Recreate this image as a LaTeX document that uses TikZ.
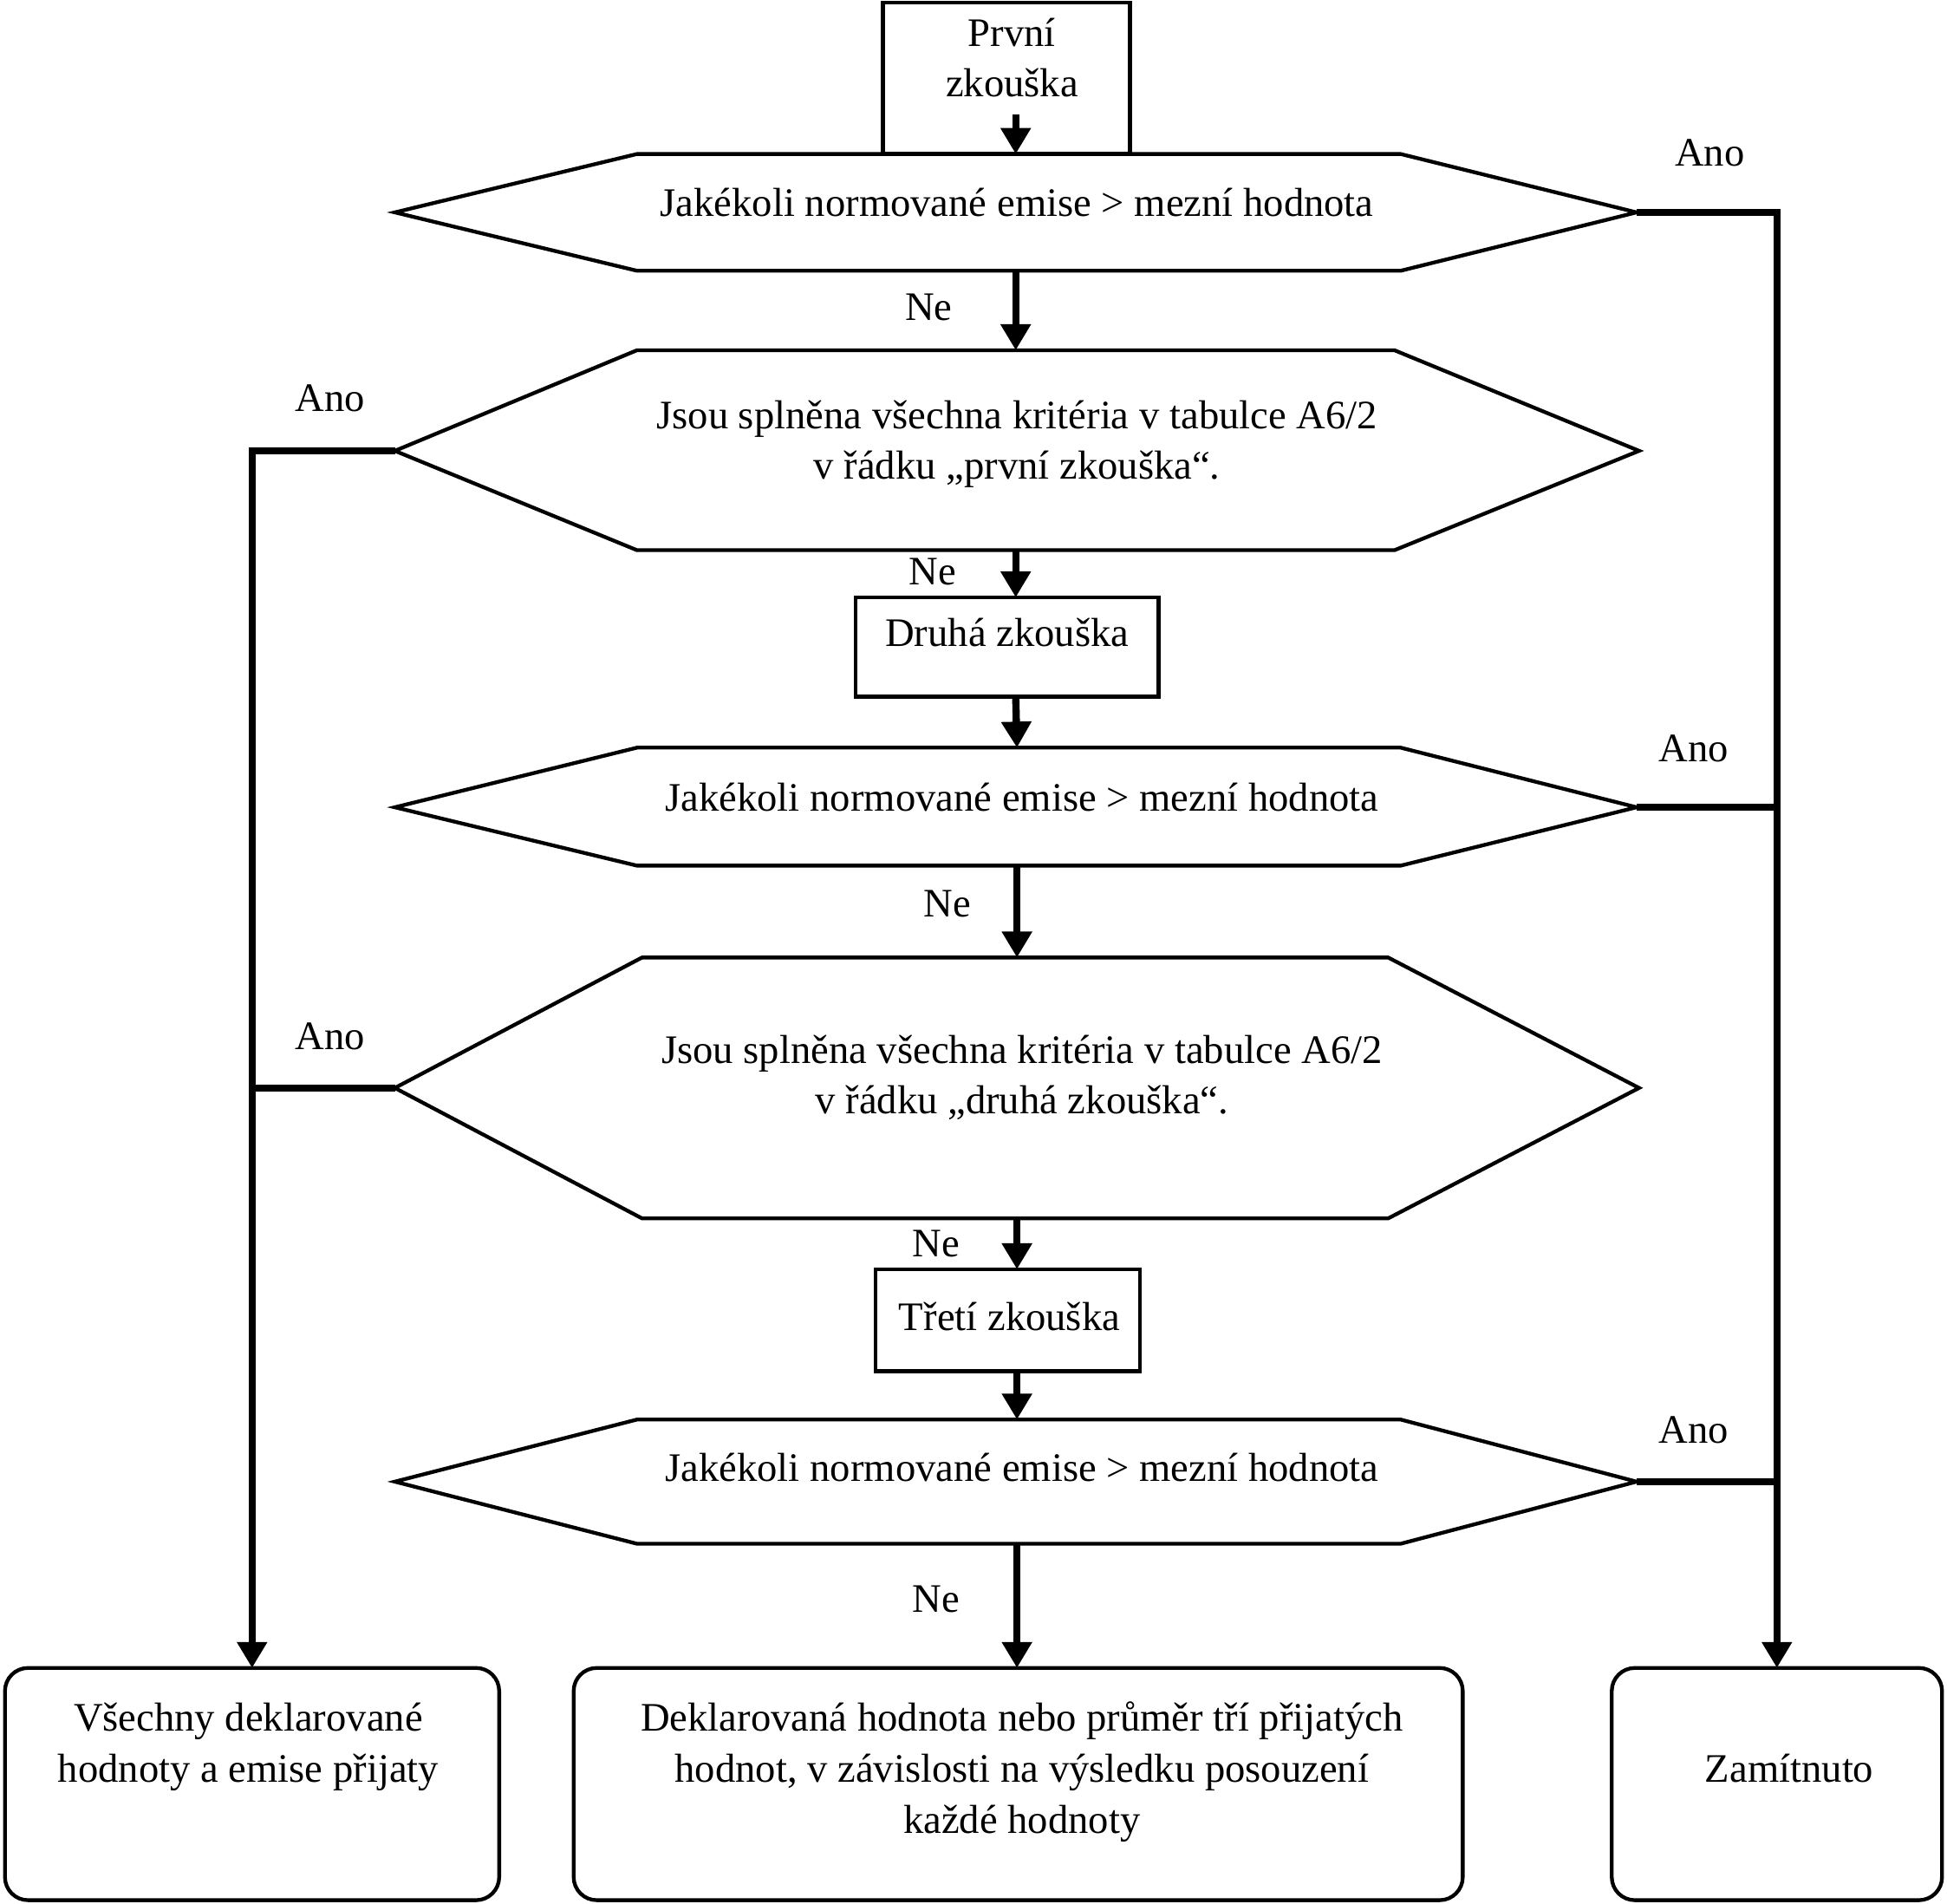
\documentclass[tikz,border=0pt]{standalone}
\usepackage{fontspec}
\setmainfont{Liberation Serif}
\usetikzlibrary{arrows.meta}
\begin{document}
\begin{tikzpicture}[x=0.43pt,y=-0.43pt,
  every node/.style={font=\fontsize{14pt}{17.6pt}\selectfont, inner sep=0pt, outer sep=0pt},
  boxline/.style={draw, line width=1.3pt},
  rbox/.style={draw, line width=1.3pt, rounded corners=8pt},
  hexline/.style={draw, line width=1.3pt, line join=miter},
  conn/.style={line width=2.5pt},
  arr/.style={conn, -{Triangle[width=10pt,length=9pt]}},
  lbl/.style={anchor=base},
  txt/.style={anchor=base, align=center}
]
\useasboundingbox (0,0) rectangle (1568,1533);

% ---------- hexagon coordinates ----------
\coordinate (h1L) at (318,171);  \coordinate (h1TL) at (513,124); \coordinate (h1TR) at (1128,124);
\coordinate (h1R) at (1318,171); \coordinate (h1BR) at (1128,218); \coordinate (h1BL) at (513,218);
\coordinate (h1T) at (818,124);  \coordinate (h1B) at (818,218);

\coordinate (h2L) at (318,363);  \coordinate (h2TL) at (513,282); \coordinate (h2TR) at (1123,282);
\coordinate (h2R) at (1320,363); \coordinate (h2BR) at (1123,443); \coordinate (h2BL) at (513,443);
\coordinate (h2T) at (818,282);  \coordinate (h2B) at (818,443);

\coordinate (h3L) at (318,650);  \coordinate (h3TL) at (513,602); \coordinate (h3TR) at (1128,602);
\coordinate (h3R) at (1318,650); \coordinate (h3BR) at (1128,697); \coordinate (h3BL) at (513,697);
\coordinate (h3T) at (819,602);  \coordinate (h3B) at (819,697);

\coordinate (h4L) at (318,876);  \coordinate (h4TL) at (517,771); \coordinate (h4TR) at (1118,771);
\coordinate (h4R) at (1320,876); \coordinate (h4BR) at (1118,981); \coordinate (h4BL) at (517,981);
\coordinate (h4T) at (819,771);  \coordinate (h4B) at (819,981);

\coordinate (h5L) at (318,1193);  \coordinate (h5TL) at (513,1143); \coordinate (h5TR) at (1128,1143);
\coordinate (h5R) at (1318,1193); \coordinate (h5BR) at (1128,1243); \coordinate (h5BL) at (513,1243);
\coordinate (h5T) at (819,1143);  \coordinate (h5B) at (819,1243);

% ---------- hexagons ----------
\path[hexline] (h1L) -- (h1TL) -- (h1TR) -- (h1R) -- (h1BR) -- (h1BL) -- cycle;
\path[hexline] (h2L) -- (h2TL) -- (h2TR) -- (h2R) -- (h2BR) -- (h2BL) -- cycle;
\path[hexline] (h3L) -- (h3TL) -- (h3TR) -- (h3R) -- (h3BR) -- (h3BL) -- cycle;
\path[hexline] (h4L) -- (h4TL) -- (h4TR) -- (h4R) -- (h4BR) -- (h4BL) -- cycle;
\path[hexline] (h5L) -- (h5TL) -- (h5TR) -- (h5R) -- (h5BR) -- (h5BL) -- cycle;

% ---------- rectangular boxes ----------
\node[boxline, minimum width=85.57pt, minimum height=52.46pt] (box1) at (810.5,63) {};
\node[boxline, minimum width=104.92pt, minimum height=34.4pt] (box2) at (811,521) {};
\node[boxline, minimum width=91.59pt, minimum height=35.26pt] (box3) at (811.5,1063) {};

% ---------- bottom rounded boxes ----------
\node[rbox, minimum width=171.14pt, minimum height=80.41pt] (boxL) at (203,1436.5) {};
\node[rbox, minimum width=307.88pt, minimum height=80.41pt] (boxM) at (820,1436.5) {};
\node[rbox, minimum width=114.38pt, minimum height=80.41pt] (boxR) at (1431,1436.5) {};

% ---------- texts (anchor = baseline of last line) ----------
\node[txt] (t1) at (815,78) {První\\zkouška};
\node[txt] (th1) at (819,174) {Jakékoli normované emise > mezní hodnota};
\node[txt] (th2) at (819,386) {Jsou splněna všechna kritéria v tabulce A6/2\\v řádku „první zkouška“.};
\node[txt] (t2) at (811,520.6) {Druhá zkouška};
\node[txt] (th3) at (823,653) {Jakékoli normované emise > mezní hodnota};
\node[txt] (th4) at (823,897) {Jsou splněna všechna kritéria v tabulce A6/2\\v řádku „druhá zkouška“.};
\node[txt] (t3) at (813,1071.6) {Třetí zkouška};
\node[txt] (th5) at (823,1193) {Jakékoli normované emise > mezní hodnota};
\node[txt] (tL) at (200,1435) {Všechny deklarované\\hodnoty a emise přijaty};
\node[txt] (tM) at (823,1476) {Deklarovaná hodnota nebo průměr tří přijatých\\hodnot, v závislosti na výsledku posouzení\\každé hodnoty};
\node[txt] (tR) at (1441,1435) {Zamítnuto};

% ---------- labels ----------
\node[lbl] (a1) at (1377,134) {Ano};
\node[lbl] (n1) at (748,258) {Ne};
\node[lbl] (a2) at (266,331) {Ano};
\node[lbl] (n2) at (751,471) {Ne};
\node[lbl] (a3) at (1364,613) {Ano};
\node[lbl] (n3) at (763,738) {Ne};
\node[lbl] (a4) at (266,845) {Ano};
\node[lbl] (n4) at (754,1011.6) {Ne};
\node[lbl] (a5) at (1364,1162) {Ano};
\node[lbl] (n5) at (754,1298) {Ne};

% ---------- connectors ----------
\coordinate (s0) at (818,92);
\draw[arr] (s0) -- (h1T);
\draw[arr] (h1B) -- (h2T);
\draw[arr] (h2B) -- (h2B |- box2.north);
\draw[arr] (h2B |- box2.south) -- (h3T);
\draw[arr] (h3B) -- (h4T);
\draw[arr] (h4B) -- (h4B |- box3.north);
\draw[arr] (h4B |- box3.south) -- (h5T);
\draw[arr] (h5B) -- (h5B |- boxM.north);

\draw[arr] (h1R) -| (boxR.north);
\draw[conn] (h3R) -- (h3R -| boxR.north);
\draw[conn] (h5R) -- (h5R -| boxR.north);

\draw[arr] (h2L) -| (boxL.north);
\draw[conn] (h4L) -- (h4L -| boxL.north);
\end{tikzpicture}
\end{document}
